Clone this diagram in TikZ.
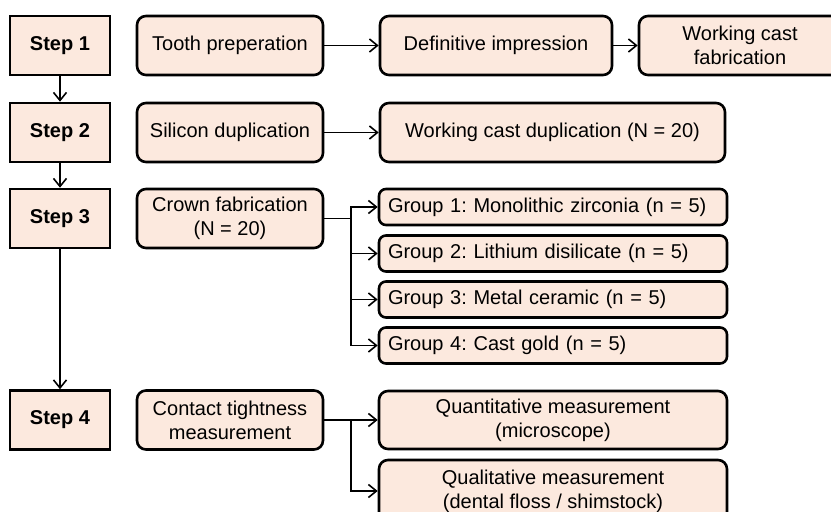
\documentclass[tikz,border=0pt]{standalone}
\usepackage{fontspec}
\setmainfont{Liberation Sans}
\usetikzlibrary{positioning,arrows.meta}
\definecolor{peach}{RGB}{252,233,222}
\frenchspacing
\tikzset{
    x=1pt,
    y=-1pt,
    stepbox/.style = {
        draw,
        shape=rectangle,
        fill=peach,
        minimum height=59pt,
        minimum width=100pt,
        line width=2.6pt,
        font=\fontsize{20}{24}\selectfont\bfseries
    },
    procbox/.style = {
        draw,
        shape=rectangle,
        rounded corners=9pt,
        fill=peach,
        minimum height=59pt,
        align=center,
        line width=2.6pt,
        font=\fontsize{20}{24}\selectfont
    },
    groupbox/.style = {
        procbox,
        rounded corners=7pt,
        minimum height=36pt,
        minimum width=348pt,
        text width=330pt,
        inner xsep=9pt,
        align=left
    },
    flow/.style = {
        draw,
        line width=1.6pt,
        ->
    },
    >={Straight Barb[length=8pt,width=13pt,line width=1.6pt]},
}

\begin{document}
\begin{tikzpicture}
    \useasboundingbox (0,0) rectangle (831,512);

    \node[stepbox] (step1) at (60,45.5) {Step 1};
    \node[stepbox] (step2) at (60,132.5) {Step 2};
    \node[stepbox] (step3) at (60,218.5) {Step 3};
    \node[stepbox] (step4) at (60,420) {Step 4};

    \node[procbox, minimum width=186pt] (tooth) at (230,45.5) {Tooth preperation};
    \node[procbox, minimum width=232pt] (impression) at (496,45.5) {Definitive impression};
    \node[procbox, minimum width=202pt] (castfab) at (740,45.5) {Working cast\\fabrication};

    \node[procbox, minimum width=186pt] (silicon) at (230,132.5) {Silicon duplication};
    \node[procbox, minimum width=345pt] (castdup) at (552.5,132.5) {Working cast duplication (N = 20)};

    \node[procbox, minimum width=186pt] (crown) at (230,218.5) {Crown fabrication\\(N = 20)};
    \node[groupbox] (group1) at (553,207) {Group 1: Monolithic zirconia (n = 5)};
    \node[groupbox] (group2) at (553,253.5) {Group 2: Lithium disilicate (n = 5)};
    \node[groupbox] (group3) at (553,299.5) {Group 3: Metal ceramic (n = 5)};
    \node[groupbox] (group4) at (553,345.5) {Group 4: Cast gold (n = 5)};

    \node[procbox, minimum width=186pt] (contact) at (230,420) {Contact tightness\\measurement};
    \node[procbox, minimum width=348pt, minimum height=58pt] (quant) at (553,420) {Quantitative measurement\\(microscope)};
    \node[procbox, minimum width=348pt, minimum height=62pt] (qual) at (553,491) {Qualitative measurement\\(dental floss / shimstock)};

    \coordinate (split3) at (351,218.5);
    \coordinate (split4) at (351,420);

    % steps
    \path[flow] (step1) -- (step2);
    \path[flow] (step2) -- (step3);
    \path[flow] (step3) -- (step4);

    % rows
    \path[flow] (tooth) -- (impression);
    \path[flow] (impression) -- (castfab);
    \path[flow] (silicon) -- (castdup);

    \path[draw, line width=1.6pt] (crown.east) -- (split3);
    \foreach \g in {group1,group2,group3,group4}
        \path[flow] (split3) |- (\g);

    \path[draw, line width=1.6pt] (contact.east) -- (split4);
    \path[flow] (split4) -- (quant);
    \path[flow] (split4) |- (qual);
\end{tikzpicture}
\end{document}
